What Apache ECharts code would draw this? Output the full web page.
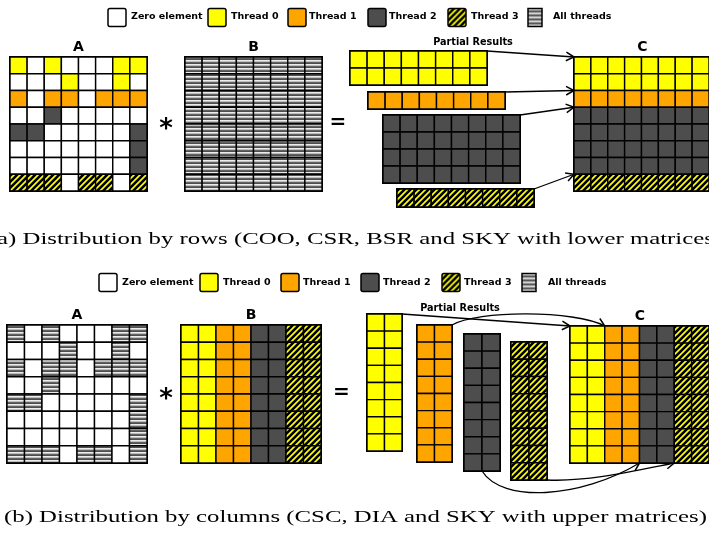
<!DOCTYPE html>
<html><head><meta charset="utf-8">
<script src="https://cdn.jsdelivr.net/npm/echarts@6/dist/echarts.min.js"></script>
<style>html,body{margin:0;padding:0;background:#fff}#c{width:709px;height:543px}</style>
</head><body><div id="c"></div>
<script>
// ---------- DATA ----------
// cell codes: 0 zero element, 1 thread 0, 2 thread 1, 3 thread 2, 4 thread 3, 5 all threads
const categories = ['Zero element', 'Thread 0', 'Thread 1', 'Thread 2', 'Thread 3', 'All threads'];
const captionRows = '(a) Distribution by rows (COO, CSR, BSR and SKY with lower matrices)';
const captionCols = '(b) Distribution by columns (CSC, DIA and SKY with upper matrices)';

// (a) distribution by rows
const rowsA = [
  [1,0,1,0,0,0,1,1],
  [0,0,0,1,0,0,1,0],
  [2,0,2,2,0,2,2,2],
  [0,0,3,0,0,0,0,0],
  [3,3,0,0,0,0,0,3],
  [0,0,0,0,0,0,0,3],
  [0,0,0,0,0,0,0,3],
  [4,4,4,0,4,4,0,4]
];
const rowsB = [
  [5,5,5,5,5,5,5,5],[5,5,5,5,5,5,5,5],[5,5,5,5,5,5,5,5],[5,5,5,5,5,5,5,5],
  [5,5,5,5,5,5,5,5],[5,5,5,5,5,5,5,5],[5,5,5,5,5,5,5,5],[5,5,5,5,5,5,5,5]
];
const rowsPartial0 = [[1,1,1,1,1,1,1,1],[1,1,1,1,1,1,1,1]];
const rowsPartial1 = [[2,2,2,2,2,2,2,2]];
const rowsPartial2 = [[3,3,3,3,3,3,3,3],[3,3,3,3,3,3,3,3],[3,3,3,3,3,3,3,3],[3,3,3,3,3,3,3,3]];
const rowsPartial3 = [[4,4,4,4,4,4,4,4]];
const rowsC = [
  [1,1,1,1,1,1,1,1],[1,1,1,1,1,1,1,1],[2,2,2,2,2,2,2,2],[3,3,3,3,3,3,3,3],
  [3,3,3,3,3,3,3,3],[3,3,3,3,3,3,3,3],[3,3,3,3,3,3,3,3],[4,4,4,4,4,4,4,4]
];

// (b) distribution by columns
const colsA = [
  [5,0,5,0,0,0,5,5],
  [0,0,0,5,0,0,5,0],
  [5,0,5,5,0,5,5,5],
  [0,0,5,0,0,0,0,0],
  [5,5,0,0,0,0,0,5],
  [0,0,0,0,0,0,0,5],
  [0,0,0,0,0,0,0,5],
  [5,5,5,0,5,5,0,5]
];
const colsB = [
  [1,1,2,2,3,3,4,4],[1,1,2,2,3,3,4,4],[1,1,2,2,3,3,4,4],[1,1,2,2,3,3,4,4],
  [1,1,2,2,3,3,4,4],[1,1,2,2,3,3,4,4],[1,1,2,2,3,3,4,4],[1,1,2,2,3,3,4,4]
];
const colsPartial0 = [[1,1],[1,1],[1,1],[1,1],[1,1],[1,1],[1,1],[1,1]];
const colsPartial1 = [[2,2],[2,2],[2,2],[2,2],[2,2],[2,2],[2,2],[2,2]];
const colsPartial2 = [[3,3],[3,3],[3,3],[3,3],[3,3],[3,3],[3,3],[3,3]];
const colsPartial3 = [[4,4],[4,4],[4,4],[4,4],[4,4],[4,4],[4,4],[4,4]];
const colsC = [
  [1,1,2,2,3,3,4,4],[1,1,2,2,3,3,4,4],[1,1,2,2,3,3,4,4],[1,1,2,2,3,3,4,4],
  [1,1,2,2,3,3,4,4],[1,1,2,2,3,3,4,4],[1,1,2,2,3,3,4,4],[1,1,2,2,3,3,4,4]
];

// ---------- LAYOUT (pixels) ----------
const layout = [
  {key:'rowsA', mat: rowsA, rect:[10,57,137,134], title:'A'},
  {key:'rowsB', mat: rowsB, rect:[185,57,137,134], title:'B'},
  {key:'rowsP0', mat: rowsPartial0, rect:[350,51,137,34]},
  {key:'rowsP1', mat: rowsPartial1, rect:[368,92,137,17]},
  {key:'rowsP2', mat: rowsPartial2, rect:[383,115,137,68]},
  {key:'rowsP3', mat: rowsPartial3, rect:[397,189,137,18]},
  {key:'rowsC', mat: rowsC, rect:[574,57,137,134], title:'C'},
  {key:'colsA', mat: colsA, rect:[7,325,140,138], title:'A'},
  {key:'colsB', mat: colsB, rect:[181,325,140,138], title:'B'},
  {key:'colsP0', mat: colsPartial0, rect:[367,314,35,137]},
  {key:'colsP1', mat: colsPartial1, rect:[417,325,35,137]},
  {key:'colsP2', mat: colsPartial2, rect:[464,334,36,137]},
  {key:'colsP3', mat: colsPartial3, rect:[511,342,36,138]},
  {key:'colsC', mat: colsC, rect:[570,326,140,137], title:'C'}
];

// ---------- STYLES ----------
function makeHatch() {
  const cv = document.createElement('canvas'); cv.width = 6; cv.height = 6;
  const ctx = cv.getContext('2d');
  ctx.fillStyle = '#ffff00'; ctx.fillRect(0, 0, 6, 6);
  ctx.strokeStyle = '#000'; ctx.lineWidth = 2.6; ctx.beginPath();
  [-6, 0, 6].forEach(o => { ctx.moveTo(o - 1, 7); ctx.lineTo(o + 7, -1); });
  ctx.stroke();
  return cv;
}
function makeStripes() {
  const cv = document.createElement('canvas'); cv.width = 4; cv.height = 4;
  const ctx = cv.getContext('2d');
  ['#ececec', '#bdbdbd', '#626262', '#4e4e4e'].forEach((c, i) => { ctx.fillStyle = c; ctx.fillRect(0, i, 4, 1); });
  return cv;
}
const hatchCanvas = makeHatch(), stripeCanvas = makeStripes();
const fills = ['#ffffff', '#ffff00', '#ffa500', '#4d4d4d',
  {image: hatchCanvas, repeat: 'repeat'}, {image: stripeCanvas, repeat: 'repeat'}];

function toCells(mat) {
  const out = [];
  mat.forEach((row, r) => row.forEach((code, c) => out.push([c, r, code])));
  return out;
}
function renderCell(params, api) {
  const c = api.value(0), r = api.value(1), code = api.value(2);
  const p0 = api.coord([c, r]), p1 = api.coord([c + 1, r + 1]);
  return {
    type: 'rect',
    shape: {x: p0[0], y: Math.min(p0[1], p1[1]), width: p1[0] - p0[0], height: Math.abs(p1[1] - p0[1])},
    style: {fill: fills[code], stroke: '#000', lineWidth: 1.4}
  };
}

const chart = echarts.init(document.getElementById('c'), null, {renderer: 'canvas'});
const option = {
  animation: false,
  backgroundColor: '#fff',
  grid: layout.map(m => ({left: m.rect[0], top: m.rect[1], width: m.rect[2], height: m.rect[3],
    show: true, borderColor: '#000', borderWidth: 2, backgroundColor: 'transparent', containLabel: false})),
  xAxis: layout.map((m, i) => ({type: 'value', gridIndex: i, min: 0, max: m.mat[0].length, show: false})),
  yAxis: layout.map((m, i) => ({type: 'value', gridIndex: i, min: 0, max: m.mat.length, inverse: true, show: false})),
  series: layout.map((m, i) => ({
    type: 'custom', name: m.key, xAxisIndex: i, yAxisIndex: i, silent: true, clip: false,
    renderItem: renderCell, encode: {x: 0, y: 1}, data: toCells(m.mat)
  }))
};
chart.setOption(option);

// ---------- ANNOTATIONS ----------
const idx = {}; layout.forEach((m, i) => idx[m.key] = i);
function px(key, x, y) { return chart.convertToPixel({gridIndex: idx[key]}, [x, y]); }

function arrow(p0, p1, c1, c2) {
  const els = [];
  const ls = {stroke: '#000', lineWidth: 1.3, fill: 'none'};
  if (c1) {
    els.push({type: 'bezierCurve', shape: {x1: p0[0], y1: p0[1], cpx1: c1[0], cpy1: c1[1], cpx2: c2[0], cpy2: c2[1], x2: p1[0], y2: p1[1]}, style: ls});
  } else {
    els.push({type: 'line', shape: {x1: p0[0], y1: p0[1], x2: p1[0], y2: p1[1]}, style: ls});
  }
  const from = c2 || p0;
  const ang = Math.atan2(p1[1] - from[1], p1[0] - from[0]);
  const L = 9, a = 0.5;
  els.push({type: 'polyline', shape: {points: [
    [p1[0] - L * Math.cos(ang - a), p1[1] - L * Math.sin(ang - a)], p1,
    [p1[0] - L * Math.cos(ang + a), p1[1] - L * Math.sin(ang + a)]]},
    style: {stroke: '#000', lineWidth: 1.5, fill: 'none'}});
  return els;
}
function off(p, dx, dy) { return [p[0] + dx, p[1] + dy]; }

const g = [];
// titles
layout.forEach(m => {
  if (!m.title) return;
  g.push({type: 'text', x: m.rect[0] + m.rect[2] / 2, y: m.rect[1] - 9.5,
    style: {text: m.title, font: 'bold 14px "DejaVu Sans"', fill: '#000', textAlign: 'center', textVerticalAlign: 'middle'}});
});
g.push({type: 'text', x: 473, y: 42, style: {text: 'Partial Results', font: 'bold 9.7px "DejaVu Sans"', fill: '#000', textAlign: 'center', textVerticalAlign: 'middle'}});
g.push({type: 'text', x: 460, y: 308, style: {text: 'Partial Results', font: 'bold 9.7px "DejaVu Sans"', fill: '#000', textAlign: 'center', textVerticalAlign: 'middle'}});
// operators
[[166, 130, '*'], [166, 400, '*']].forEach(o => g.push({type: 'text', x: o[0], y: o[1],
  style: {text: o[2], font: 'bold 26px "DejaVu Sans"', fill: '#000', textAlign: 'center', textVerticalAlign: 'middle'}}));
[[338, 123, '='], [341.5, 393, '=']].forEach(o => g.push({type: 'text', x: o[0], y: o[1],
  style: {text: o[2], font: 'bold 20px "DejaVu Sans"', fill: '#000', textAlign: 'center', textVerticalAlign: 'middle'}}));

// legends
const legendRows = [
  {y: 8.5, cy: 17, box: [108, 208, 288, 368, 448, 528], text: [131, 231, 309, 389, 471, 553]},
  {y: 273.5, cy: 283, box: [99, 200, 281, 361, 442, 522], text: [122, 223, 303, 383, 464, 548]}
];
legendRows.forEach(L => {
  categories.forEach((name, i) => {
    const w = i === 5 ? 14 : 18;
    g.push({type: 'rect', x: L.box[i], y: L.y, shape: {x: 0, y: 0, width: w, height: 18, r: i === 5 ? 0 : 2},
      style: {fill: fills[i], stroke: '#000', lineWidth: 1.5}});
    g.push({type: 'text', x: L.text[i], y: L.cy, style: {text: name, font: 'bold 9.5px "DejaVu Sans"', fill: '#000', textVerticalAlign: 'middle'}});
  });
});

// captions
const mctx = document.createElement('canvas').getContext('2d');
const capFont = '17px "Liberation Serif"';
mctx.font = capFont;
const capScale = 703 / mctx.measureText(captionCols).width;
[[captionRows, 240], [captionCols, 518]].forEach(c => g.push({type: 'text', x: 355.5, y: c[1], scaleX: capScale,
  style: {text: c[0], font: capFont, fill: '#000', textAlign: 'center', textVerticalAlign: 'middle'}}));

// arrows (a)
g.push(...arrow(px('rowsP0', 8, 0), px('rowsC', 0, 0)));
g.push(...arrow(px('rowsP1', 8, 0), px('rowsC', 0, 2)));
g.push(...arrow(px('rowsP2', 8, 0), px('rowsC', 0, 3)));
g.push(...arrow(px('rowsP3', 8, 0), px('rowsC', 0, 7)));
// arrows (b)
g.push(...arrow(px('colsP0', 2, 0), px('colsC', 0, 0)));
(function(){
  const s = px('colsP1', 2, 0), e = px('colsC', 2, 0);
  g.push(...arrow(s, e, off(s, 25, -15), off(e, -30, -16)));
  const s2 = px('colsP2', 1, 8), e2 = px('colsC', 4, 8);
  g.push(...arrow(s2, e2, off(s2, 20, 32), off(e2, -60, 36)));
  const s3 = px('colsP3', 2, 8), e3 = px('colsC', 6, 8);
  g.push(...arrow(s3, e3, off(s3, 40, 2), off(e3, -40, 8)));
})();

chart.setOption({graphic: g});
</script>
</body></html>
